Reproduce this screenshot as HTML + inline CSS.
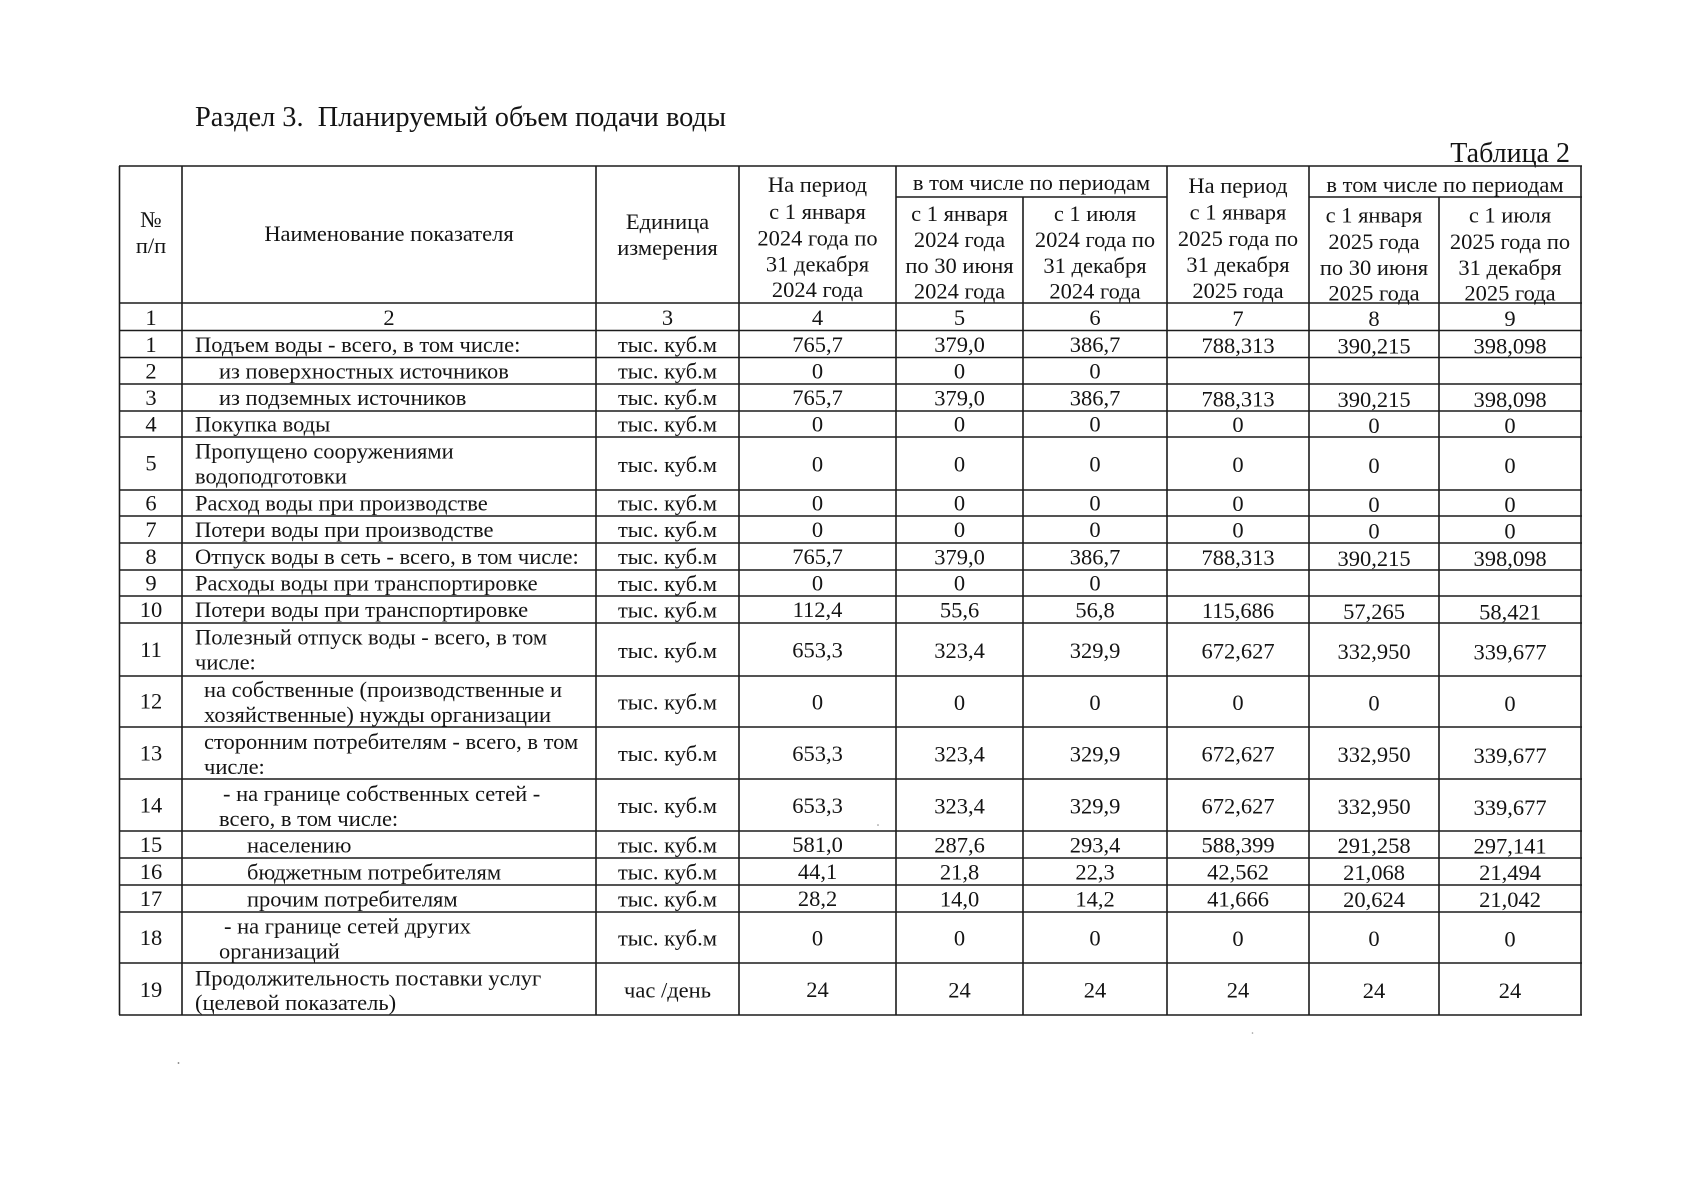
<!DOCTYPE html>
<html>
<head>
<meta charset="utf-8">
<style>
html,body{margin:0;padding:0;background:#fff;}
svg{display:block;}
text{font-family:"Liberation Serif","Noto Serif CJK SC",serif;fill:#141414;white-space:pre;}
.t{font-size:22.5px;}
.c{text-anchor:middle;}
.big{font-size:28px;}
line{stroke:#1c1c1c;stroke-width:1.6;}
</style>
</head>
<body>
<svg width="1696" height="1200" viewBox="0 0 1696 1200" xmlns="http://www.w3.org/2000/svg">
<rect x="0" y="0" width="1696" height="1200" fill="#fff"/>
<text class="big" x="195" y="126" textLength="531" lengthAdjust="spacingAndGlyphs">Раздел 3.  Планируемый объем подачи воды</text>
<text class="big" x="1570" y="162" text-anchor="end">Таблица 2</text>

<!-- horizontal lines -->
<line x1="119" y1="166" x2="1582" y2="166"/>
<line x1="896" y1="197" x2="1167" y2="197"/>
<line x1="1309" y1="197" x2="1582" y2="197"/>
<line x1="119" y1="303" x2="1582" y2="303"/>
<line x1="119" y1="330.5" x2="1582" y2="330.5"/>
<line x1="119" y1="357.5" x2="1582" y2="357.5"/>
<line x1="119" y1="384" x2="1582" y2="384"/>
<line x1="119" y1="411" x2="1582" y2="411"/>
<line x1="119" y1="437" x2="1582" y2="437"/>
<line x1="119" y1="490" x2="1582" y2="490"/>
<line x1="119" y1="516" x2="1582" y2="516"/>
<line x1="119" y1="543" x2="1582" y2="543"/>
<line x1="119" y1="570" x2="1582" y2="570"/>
<line x1="119" y1="596" x2="1582" y2="596"/>
<line x1="119" y1="623" x2="1582" y2="623"/>
<line x1="119" y1="676" x2="1582" y2="676"/>
<line x1="119" y1="727" x2="1582" y2="727"/>
<line x1="119" y1="779" x2="1582" y2="779"/>
<line x1="119" y1="831" x2="1582" y2="831"/>
<line x1="119" y1="858" x2="1582" y2="858"/>
<line x1="119" y1="885" x2="1582" y2="885"/>
<line x1="119" y1="912" x2="1582" y2="912"/>
<line x1="119" y1="963" x2="1582" y2="963"/>
<line x1="119" y1="1015" x2="1582" y2="1015"/>

<!-- vertical lines -->
<line x1="119.5" y1="166" x2="119.5" y2="1015"/>
<line x1="182" y1="166" x2="182" y2="1015"/>
<line x1="596" y1="166" x2="596" y2="1015"/>
<line x1="739" y1="166" x2="739" y2="1015"/>
<line x1="896" y1="166" x2="896" y2="1015"/>
<line x1="1023" y1="197" x2="1023" y2="1015"/>
<line x1="1167" y1="166" x2="1167" y2="1015"/>
<line x1="1309" y1="166" x2="1309" y2="1015"/>
<line x1="1439" y1="197" x2="1439" y2="1015"/>
<line x1="1581" y1="166" x2="1581" y2="1015"/>

<!-- header -->
<g class="t">
<text class="c" x="151" y="227">№</text>
<text class="c" x="151" y="253">п/п</text>
<text class="c" x="389" y="241">Наименование показателя</text>
<text class="c" x="667.5" y="229">Единица</text>
<text class="c" x="667.5" y="255">измерения</text>

<text class="c" x="817.5" y="192">На период</text>
<text class="c" x="817.5" y="219">с 1 января</text>
<text class="c" x="817.5" y="245.5">2024 года по</text>
<text class="c" x="817.5" y="271.5">31 декабря</text>
<text class="c" x="817.5" y="297">2024 года</text>

<text class="c" x="1031.5" y="190">в том числе по периодам</text>
<text class="c" x="959.5" y="221">с 1 января</text>
<text class="c" x="959.5" y="247">2024 года</text>
<text class="c" x="959.5" y="273">по 30 июня</text>
<text class="c" x="959.5" y="298.5">2024 года</text>
<text class="c" x="1095" y="221">с 1 июля</text>
<text class="c" x="1095" y="247">2024 года по</text>
<text class="c" x="1095" y="273">31 декабря</text>
<text class="c" x="1095" y="298.5">2024 года</text>

<text class="c" x="1238" y="193">На период</text>
<text class="c" x="1238" y="219.5">с 1 января</text>
<text class="c" x="1238" y="246">2025 года по</text>
<text class="c" x="1238" y="272">31 декабря</text>
<text class="c" x="1238" y="298">2025 года</text>

<text class="c" x="1445" y="192">в том числе по периодам</text>
<text class="c" x="1374" y="222.5">с 1 января</text>
<text class="c" x="1374" y="249">2025 года</text>
<text class="c" x="1374" y="275">по 30 июня</text>
<text class="c" x="1374" y="300.5">2025 года</text>
<text class="c" x="1510" y="222.5">с 1 июля</text>
<text class="c" x="1510" y="249">2025 года по</text>
<text class="c" x="1510" y="275">31 декабря</text>
<text class="c" x="1510" y="300.5">2025 года</text>

<!-- number row -->
<text class="c" x="151" y="325">1</text>
<text class="c" x="389" y="325">2</text>
<text class="c" x="667.5" y="325">3</text>
<text class="c" x="817.5" y="325">4</text>
<text class="c" x="959.5" y="325">5</text>
<text class="c" x="1095" y="325">6</text>
<text class="c" x="1238" y="326">7</text>
<text class="c" x="1374" y="326">8</text>
<text class="c" x="1510" y="326">9</text>
</g>

<!-- body -->
<g class="t">
<!-- r1 -->
<text class="c" x="151" y="352">1</text>
<text x="195" y="352">Подъем воды - всего, в том числе:</text>
<text class="c" x="667.5" y="352">тыс. куб.м</text>
<text class="c" x="817.5" y="352">765,7</text>
<text class="c" x="959.5" y="352">379,0</text>
<text class="c" x="1095" y="352">386,7</text>
<text class="c" x="1238" y="353">788,313</text>
<text class="c" x="1374" y="353.5">390,215</text>
<text class="c" x="1510" y="353.5">398,098</text>
<!-- r2 -->
<text class="c" x="151" y="378.5">2</text>
<text x="219" y="378.5">из поверхностных источников</text>
<text class="c" x="667.5" y="378.5">тыс. куб.м</text>
<text class="c" x="817.5" y="378.5">0</text>
<text class="c" x="959.5" y="378.5">0</text>
<text class="c" x="1095" y="378.5">0</text>
<!-- r3 -->
<text class="c" x="151" y="405">3</text>
<text x="219" y="405">из подземных источников</text>
<text class="c" x="667.5" y="405">тыс. куб.м</text>
<text class="c" x="817.5" y="405">765,7</text>
<text class="c" x="959.5" y="405.5">379,0</text>
<text class="c" x="1095" y="405.5">386,7</text>
<text class="c" x="1238" y="406.5">788,313</text>
<text class="c" x="1374" y="407">390,215</text>
<text class="c" x="1510" y="407">398,098</text>
<!-- r4 -->
<text class="c" x="151" y="431.5">4</text>
<text x="195" y="431.5">Покупка воды</text>
<text class="c" x="667.5" y="431.5">тыс. куб.м</text>
<text class="c" x="817.5" y="431.5">0</text>
<text class="c" x="959.5" y="431.5">0</text>
<text class="c" x="1095" y="431.5">0</text>
<text class="c" x="1238" y="432">0</text>
<text class="c" x="1374" y="433">0</text>
<text class="c" x="1510" y="433">0</text>
<!-- r5 -->
<text class="c" x="151" y="470.5">5</text>
<text x="195" y="458.5">Пропущено сооружениями</text>
<text x="195" y="483.5">водоподготовки</text>
<text class="c" x="667.5" y="472">тыс. куб.м</text>
<text class="c" x="817.5" y="471.5">0</text>
<text class="c" x="959.5" y="471.5">0</text>
<text class="c" x="1095" y="471.5">0</text>
<text class="c" x="1238" y="472">0</text>
<text class="c" x="1374" y="473">0</text>
<text class="c" x="1510" y="473">0</text>
<!-- r6 -->
<text class="c" x="151" y="510.5">6</text>
<text x="195" y="510.5">Расход воды при производстве</text>
<text class="c" x="667.5" y="510.5">тыс. куб.м</text>
<text class="c" x="817.5" y="510.5">0</text>
<text class="c" x="959.5" y="510.5">0</text>
<text class="c" x="1095" y="510.5">0</text>
<text class="c" x="1238" y="511">0</text>
<text class="c" x="1374" y="512">0</text>
<text class="c" x="1510" y="512">0</text>
<!-- r7 -->
<text class="c" x="151" y="537">7</text>
<text x="195" y="537">Потери воды при производстве</text>
<text class="c" x="667.5" y="537">тыс. куб.м</text>
<text class="c" x="817.5" y="537">0</text>
<text class="c" x="959.5" y="537">0</text>
<text class="c" x="1095" y="537">0</text>
<text class="c" x="1238" y="537.5">0</text>
<text class="c" x="1374" y="538.5">0</text>
<text class="c" x="1510" y="538.5">0</text>
<!-- r8 -->
<text class="c" x="151" y="564">8</text>
<text x="195" y="564">Отпуск воды в сеть - всего, в том числе:</text>
<text class="c" x="667.5" y="564">тыс. куб.м</text>
<text class="c" x="817.5" y="564">765,7</text>
<text class="c" x="959.5" y="564.5">379,0</text>
<text class="c" x="1095" y="564.5">386,7</text>
<text class="c" x="1238" y="565">788,313</text>
<text class="c" x="1374" y="566">390,215</text>
<text class="c" x="1510" y="566">398,098</text>
<!-- r9 -->
<text class="c" x="151" y="590.5">9</text>
<text x="195" y="590.5">Расходы воды при транспортировке</text>
<text class="c" x="667.5" y="591">тыс. куб.м</text>
<text class="c" x="817.5" y="590.5">0</text>
<text class="c" x="959.5" y="590.5">0</text>
<text class="c" x="1095" y="590.5">0</text>
<!-- r10 -->
<text class="c" x="151" y="617">10</text>
<text x="195" y="617">Потери воды при транспортировке</text>
<text class="c" x="667.5" y="617.5">тыс. куб.м</text>
<text class="c" x="817.5" y="617">112,4</text>
<text class="c" x="959.5" y="617.5">55,6</text>
<text class="c" x="1095" y="617.5">56,8</text>
<text class="c" x="1238" y="618">115,686</text>
<text class="c" x="1374" y="619">57,265</text>
<text class="c" x="1510" y="619.5">58,421</text>
<!-- r11 -->
<text class="c" x="151" y="657">11</text>
<text x="195" y="644.5">Полезный отпуск воды - всего, в том</text>
<text x="195" y="669.5">числе:</text>
<text class="c" x="667.5" y="658">тыс. куб.м</text>
<text class="c" x="817.5" y="657.5">653,3</text>
<text class="c" x="959.5" y="658">323,4</text>
<text class="c" x="1095" y="658">329,9</text>
<text class="c" x="1238" y="658.5">672,627</text>
<text class="c" x="1374" y="659">332,950</text>
<text class="c" x="1510" y="659.5">339,677</text>
<!-- r12 -->
<text class="c" x="151" y="708.5">12</text>
<text x="204" y="697">на собственные (производственные и</text>
<text x="204" y="722">хозяйственные) нужды организации</text>
<text class="c" x="667.5" y="709.5">тыс. куб.м</text>
<text class="c" x="817.5" y="709.5">0</text>
<text class="c" x="959.5" y="710">0</text>
<text class="c" x="1095" y="710">0</text>
<text class="c" x="1238" y="710">0</text>
<text class="c" x="1374" y="710.5">0</text>
<text class="c" x="1510" y="711">0</text>
<!-- r13 -->
<text class="c" x="151" y="760.5">13</text>
<text x="204" y="749">сторонним потребителям - всего, в том</text>
<text x="204" y="774">числе:</text>
<text class="c" x="667.5" y="761">тыс. куб.м</text>
<text class="c" x="817.5" y="761">653,3</text>
<text class="c" x="959.5" y="761.5">323,4</text>
<text class="c" x="1095" y="761.5">329,9</text>
<text class="c" x="1238" y="761.5">672,627</text>
<text class="c" x="1374" y="762">332,950</text>
<text class="c" x="1510" y="763">339,677</text>
<!-- r14 -->
<text class="c" x="151" y="812.5">14</text>
<text x="223" y="801">- на границе собственных сетей -</text>
<text x="219" y="826">всего, в том числе:</text>
<text class="c" x="667.5" y="813">тыс. куб.м</text>
<text class="c" x="817.5" y="813">653,3</text>
<text class="c" x="959.5" y="813.5">323,4</text>
<text class="c" x="1095" y="813.5">329,9</text>
<text class="c" x="1238" y="813.5">672,627</text>
<text class="c" x="1374" y="814">332,950</text>
<text class="c" x="1510" y="815">339,677</text>
<!-- r15 -->
<text class="c" x="151" y="852">15</text>
<text x="247" y="852.5">населению</text>
<text class="c" x="667.5" y="852.5">тыс. куб.м</text>
<text class="c" x="817.5" y="852">581,0</text>
<text class="c" x="959.5" y="852.5">287,6</text>
<text class="c" x="1095" y="852.5">293,4</text>
<text class="c" x="1238" y="852.5">588,399</text>
<text class="c" x="1374" y="853">291,258</text>
<text class="c" x="1510" y="853.5">297,141</text>
<!-- r16 -->
<text class="c" x="151" y="879">16</text>
<text x="247" y="879.5">бюджетным потребителям</text>
<text class="c" x="667.5" y="879.5">тыс. куб.м</text>
<text class="c" x="817.5" y="879">44,1</text>
<text class="c" x="959.5" y="879.5">21,8</text>
<text class="c" x="1095" y="879.5">22,3</text>
<text class="c" x="1238" y="879.5">42,562</text>
<text class="c" x="1374" y="880">21,068</text>
<text class="c" x="1510" y="880">21,494</text>
<!-- r17 -->
<text class="c" x="151" y="906">17</text>
<text x="247" y="906.5">прочим потребителям</text>
<text class="c" x="667.5" y="906.5">тыс. куб.м</text>
<text class="c" x="817.5" y="906">28,2</text>
<text class="c" x="959.5" y="906.5">14,0</text>
<text class="c" x="1095" y="906.5">14,2</text>
<text class="c" x="1238" y="906.5">41,666</text>
<text class="c" x="1374" y="907">20,624</text>
<text class="c" x="1510" y="907">21,042</text>
<!-- r18 -->
<text class="c" x="151" y="945">18</text>
<text x="224" y="933.5">- на границе сетей других</text>
<text x="219" y="958.5">организаций</text>
<text class="c" x="667.5" y="945.5">тыс. куб.м</text>
<text class="c" x="817.5" y="945.5">0</text>
<text class="c" x="959.5" y="945.5">0</text>
<text class="c" x="1095" y="945.5">0</text>
<text class="c" x="1238" y="946">0</text>
<text class="c" x="1374" y="946">0</text>
<text class="c" x="1510" y="946.5">0</text>
<!-- r19 -->
<text class="c" x="151" y="997">19</text>
<text x="195" y="985.5">Продолжительность поставки услуг</text>
<text x="195" y="1010">(целевой показатель)</text>
<text class="c" x="667.5" y="997.5">час /день</text>
<text class="c" x="817.5" y="997">24</text>
<text class="c" x="959.5" y="997.5">24</text>
<text class="c" x="1095" y="997.5">24</text>
<text class="c" x="1238" y="997.5">24</text>
<text class="c" x="1374" y="998">24</text>
<text class="c" x="1510" y="998">24</text>
</g>

<!-- scan specks -->
<circle cx="178.5" cy="1063" r="0.9" fill="#777"/>
<circle cx="1252.5" cy="1033" r="0.8" fill="#999"/>
<circle cx="878" cy="825" r="0.8" fill="#888"/>
</svg>
</body>
</html>
